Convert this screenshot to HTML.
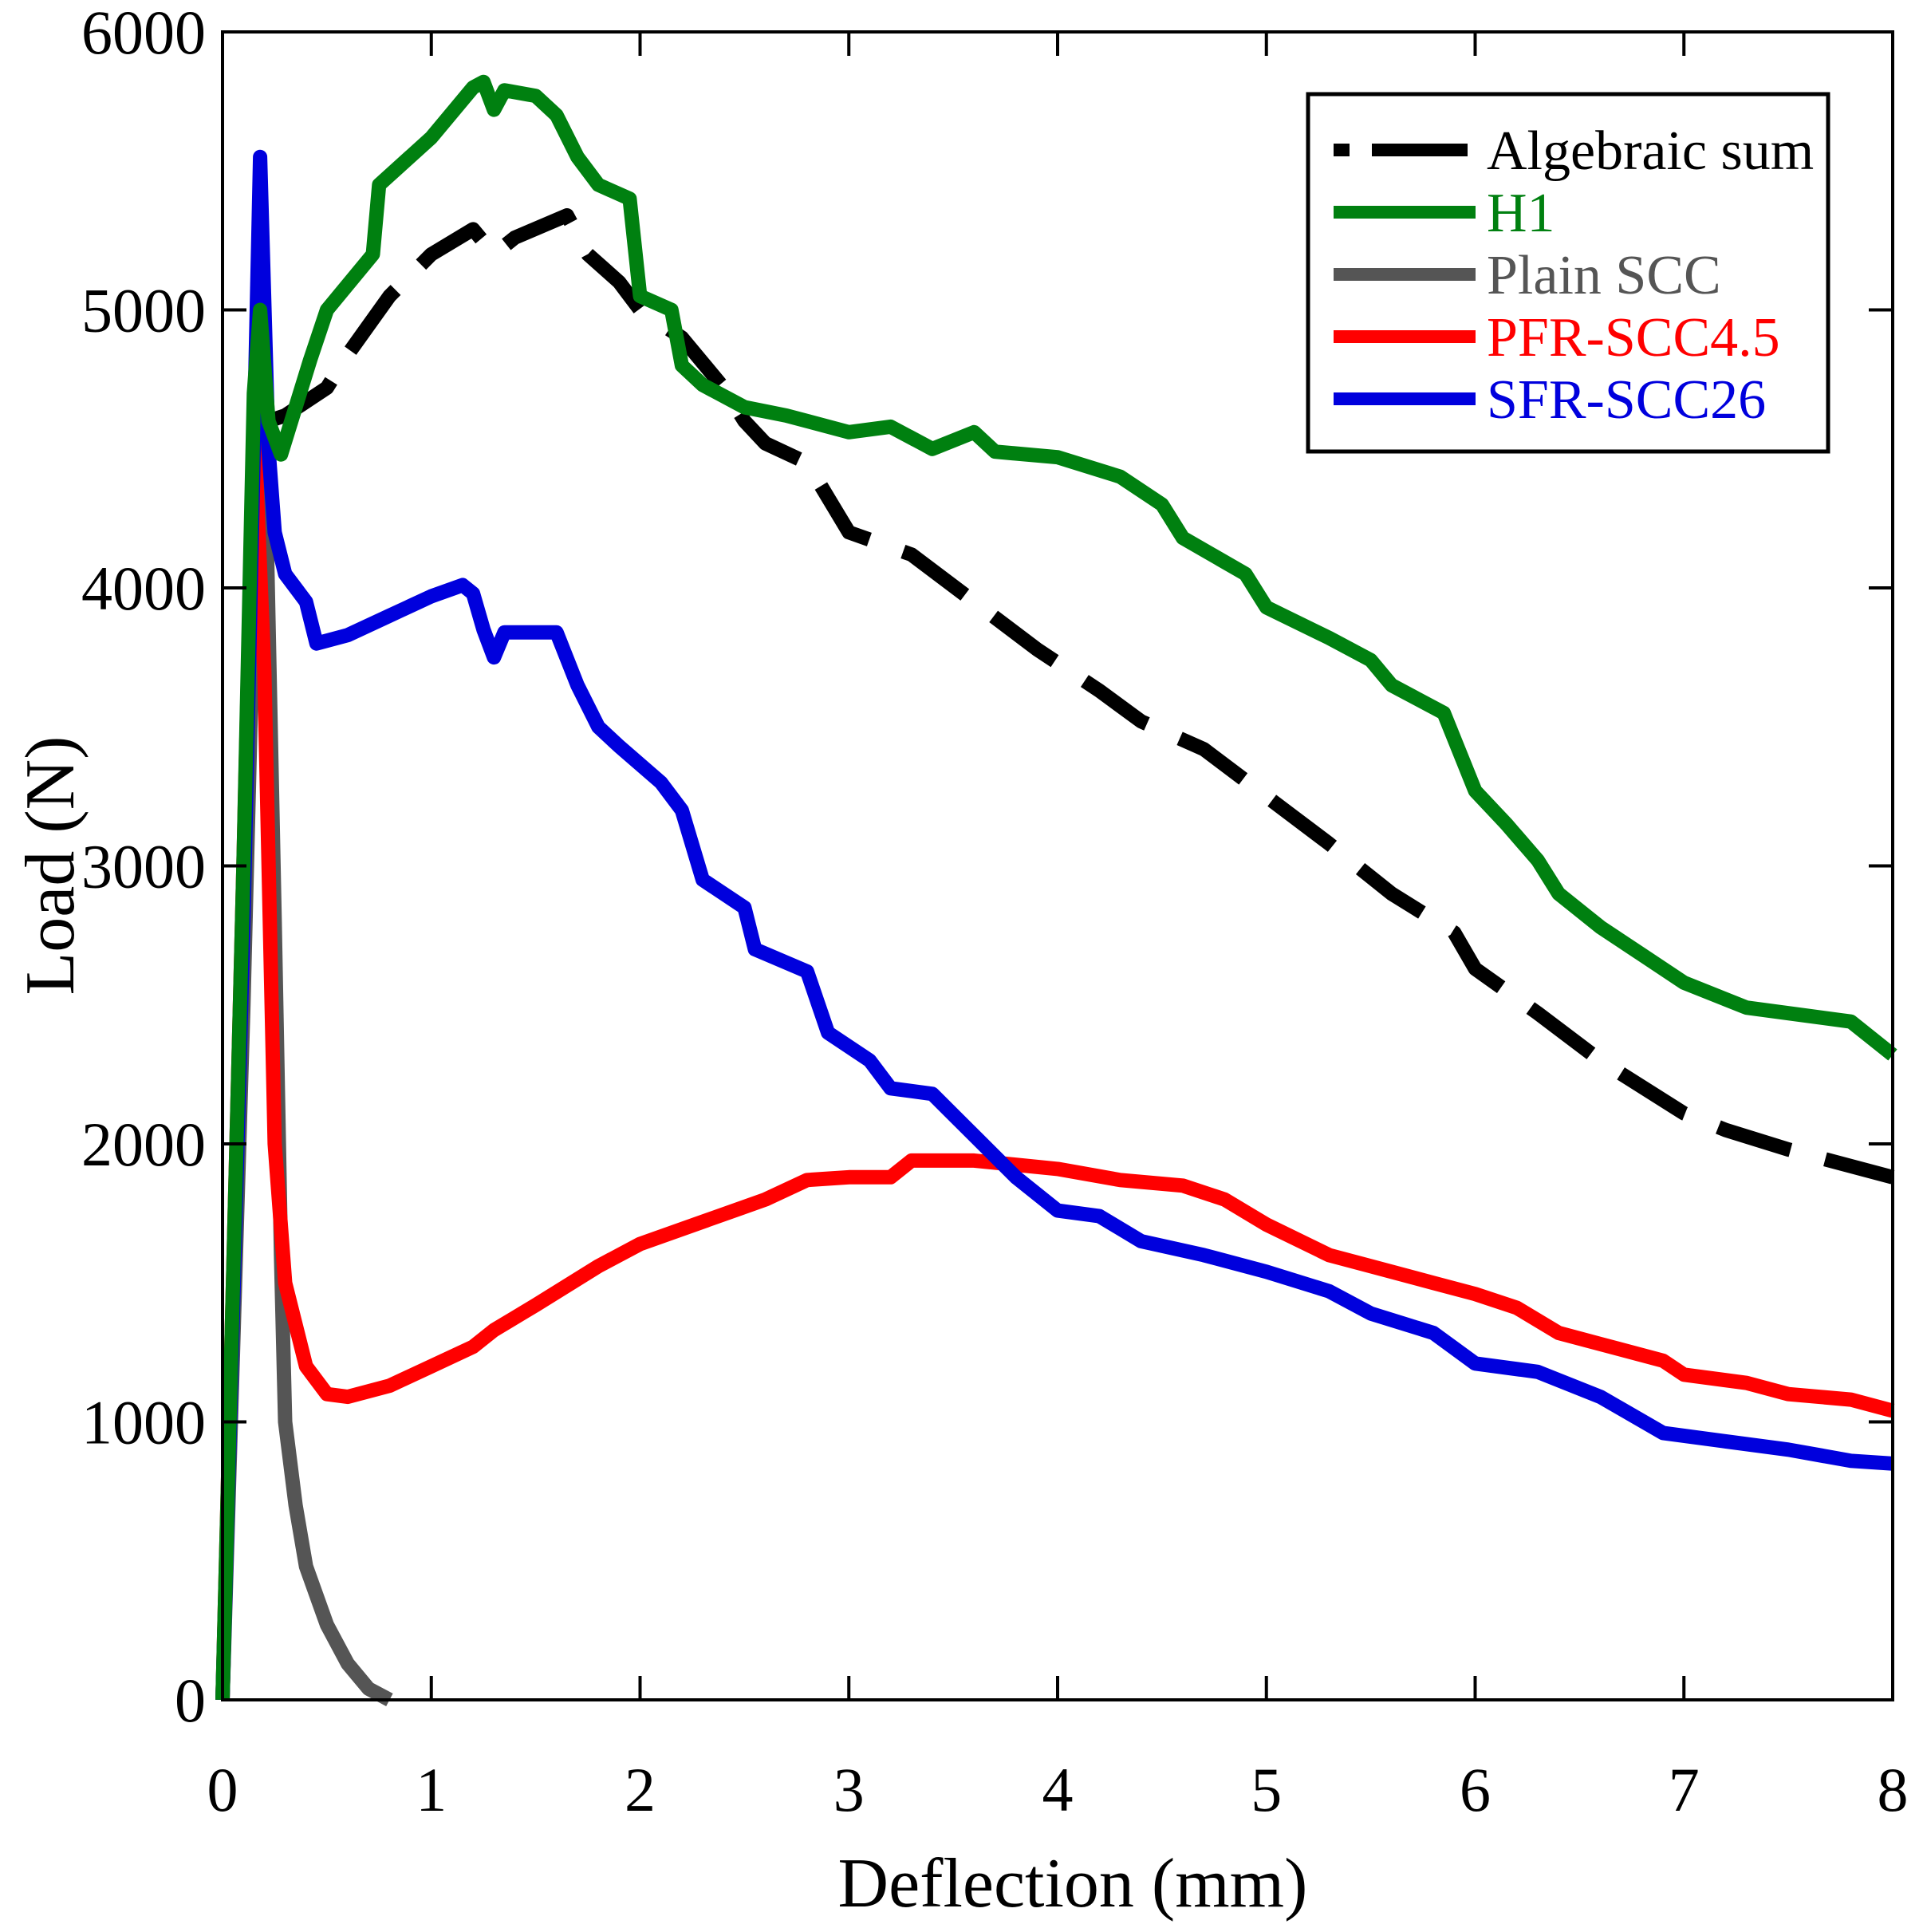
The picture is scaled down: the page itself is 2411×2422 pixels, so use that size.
<!DOCTYPE html>
<html><head><meta charset="utf-8"><style>
html,body{margin:0;padding:0;background:#fff}
svg{display:block;font-family:"Liberation Serif",serif}
</style></head><body>
<svg id="chart" width="2411" height="2422" viewBox="0 0 2411 2422" xmlns="http://www.w3.org/2000/svg">
<g id="marks"></g>
<g id="axes"></g>
<text x="1345" y="2390" font-size="88" text-anchor="middle">Deflection (mm)</text>
<text x="0" y="0" font-size="88" text-anchor="middle" transform="translate(92,1085) rotate(-90)">Load (N)</text>
<g>
<rect x="1640" y="118" width="652" height="448" fill="#fff" stroke="#000" stroke-width="5"/>
<g id="legend-items"></g>
</g>
</svg>
<script>
const xTicks=[0,1,2,3,4,5,6,7,8];
const yTicks=[0,1000,2000,3000,4000,5000,6000];
const seriesNames=["Algebraic sum","H1","Plain SCC","PFR-SCC4.5","SFR-SCC26"];
const algX=[0.22,0.3,0.5,0.6,0.8,1.0,1.2,1.3,1.4,1.65,1.75,1.9,2.0,2.2,2.4,2.5,2.6,2.8,3.0,3.3,3.6,3.9,4.2,4.4,4.7,5.0,5.3,5.6,5.9,6.0,6.3,6.6,7.0,7.2,7.5,8.0];
const algY=[4600,4620,4720,4840,5050,5200,5290,5200,5260,5340,5200,5100,5000,4900,4720,4600,4520,4450,4200,4120,3950,3780,3630,3520,3420,3250,3080,2900,2760,2630,2470,2300,2110,2050,1980,1880];
const h1X=[0,0.1,0.15,0.18,0.22,0.28,0.42,0.5,0.72,0.75,1.0,1.2,1.25,1.3,1.35,1.5,1.6,1.7,1.8,1.95,2.0,2.15,2.2,2.3,2.5,2.7,3.0,3.2,3.4,3.6,3.7,4.0,4.3,4.5,4.6,4.9,5.0,5.3,5.5,5.6,5.85,6.0,6.15,6.3,6.4,6.6,6.8,7.0,7.3,7.6,7.8,8.0];
const h1Y=[0,3000,4700,5000,4600,4480,4820,5000,5200,5450,5620,5800,5820,5720,5790,5770,5700,5550,5450,5400,5050,5000,4800,4730,4650,4620,4560,4580,4500,4560,4490,4470,4400,4300,4180,4050,3930,3820,3740,3650,3550,3270,3150,3020,2900,2780,2680,2580,2490,2460,2440,2320];
const plainX=[0,0.1,0.15,0.2,0.25,0.28,0.3,0.35,0.4,0.5,0.6,0.7,0.8];
const plainY=[0,2500,4000,4600,2800,1600,1000,700,480,270,130,40,0];
const pfrX=[0,0.1,0.15,0.2,0.25,0.3,0.4,0.5,0.6,0.8,1.0,1.2,1.3,1.5,1.8,2.0,2.3,2.6,2.8,3.0,3.2,3.3,3.6,4.0,4.3,4.6,4.8,5.0,5.3,5.5,5.8,6.0,6.2,6.4,6.6,6.9,7.0,7.3,7.5,7.8,8.0];
const pfrY=[0,3000,4600,3700,2000,1500,1200,1100,1090,1130,1200,1270,1330,1420,1560,1640,1720,1800,1870,1880,1880,1940,1940,1910,1870,1850,1800,1710,1600,1560,1500,1460,1410,1320,1280,1220,1170,1140,1100,1080,1040];
const sfrX=[0,0.1,0.18,0.22,0.25,0.3,0.4,0.45,0.6,0.8,1.0,1.15,1.2,1.25,1.3,1.35,1.6,1.7,1.8,1.9,2.1,2.2,2.3,2.5,2.55,2.8,2.9,3.1,3.2,3.4,3.6,3.8,4.0,4.2,4.4,4.7,5.0,5.3,5.5,5.8,6.0,6.3,6.6,6.9,7.2,7.5,7.8,8.0];
const sfrY=[0,2800,5550,4500,4200,4050,3950,3800,3830,3900,3970,4010,3980,3850,3750,3840,3840,3650,3500,3430,3300,3200,2950,2850,2700,2620,2400,2300,2200,2180,2030,1880,1760,1740,1650,1600,1540,1470,1390,1320,1210,1180,1090,960,930,900,860,850];

const L=279,R=2373,T=40,B=2131;
const sx=v=>L+(R-L)*v/8;
const sy=v=>B-(B-T)*v/6000;
const NS="http://www.w3.org/2000/svg";
function mk(tag,attrs,parent){const e=document.createElementNS(NS,tag);for(const k in attrs)e.setAttribute(k,attrs[k]);parent.appendChild(e);return e;}
const marks=document.getElementById('marks');
const axes=document.getElementById('axes');
function poly(xs,ys,color,dash){
  const d=xs.map((x,i)=>(i?'L':'M')+sx(x).toFixed(1)+','+sy(ys[i]).toFixed(1)).join('');
  const p=mk('path',{d:d,fill:'none',stroke:color,'stroke-width':18,'stroke-linejoin':'round'},marks);
  if(dash)p.setAttribute('stroke-dasharray',dash);
  return p;
}
let p;
p=poly(plainX,plainY,'#555555');


p=poly(pfrX,pfrY,'#ff0000');


p=poly(sfrX,sfrY,'#0000dd');


p=poly(algX,algY,'#000000','95 45');


p=poly(h1X,h1Y,'#008010');



const frame=mk('rect',{x:L,y:T,width:R-L,height:B-T,fill:'none',stroke:'#000','stroke-width':4},axes);


xTicks.forEach(v=>{
  mk('line',{x1:sx(v),x2:sx(v),y1:B,y2:B-30,stroke:'#000','stroke-width':4},axes);
  mk('line',{x1:sx(v),x2:sx(v),y1:T,y2:T+30,stroke:'#000','stroke-width':4},axes);
  const t=mk('text',{x:sx(v),y:2270,'font-size':78,'text-anchor':'middle'},axes);
  t.textContent=v;
  
  
});
yTicks.forEach(v=>{
  mk('line',{x1:L,x2:L+30,y1:sy(v),y2:sy(v),stroke:'#000','stroke-width':4},axes);
  mk('line',{x1:R,x2:R-30,y1:sy(v),y2:sy(v),stroke:'#000','stroke-width':4},axes);
  const t=mk('text',{x:258,y:sy(v)+27,'font-size':78,'text-anchor':'end'},axes);
  t.textContent=v;
  
  
});
const leg=document.getElementById('legend-items');
const legColors=['#000000','#008010','#555555','#ff0000','#0000dd'];
seriesNames.forEach((n,i)=>{
  const y=188+i*78;
  const g=mk('g',{},leg);
  
  
  const ln=mk('line',{x1:1672,x2:1850,y1:y,y2:y,stroke:legColors[i],'stroke-width':16},g);
  if(i===0)ln.setAttribute('stroke-dasharray','20 28 100 0');
  const t=mk('text',{x:1864,y:y+24,'font-size':70,fill:legColors[i]},g);
  t.textContent=n;
});
</script>
</body></html>
